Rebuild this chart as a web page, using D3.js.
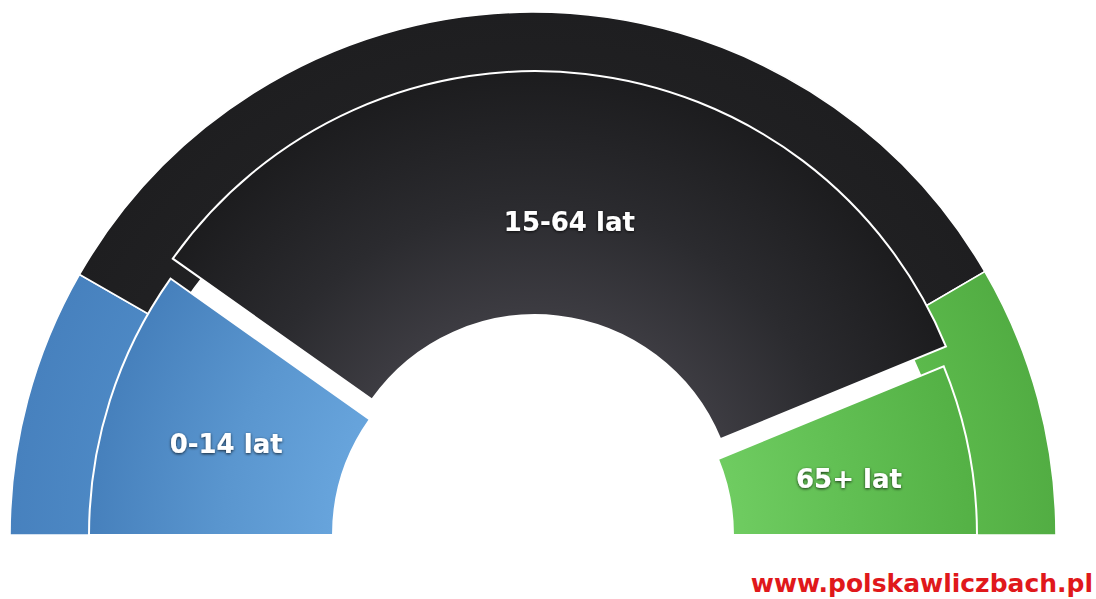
<!DOCTYPE html>
<html>
<head>
<meta charset="utf-8">
<script src="https://cdn.jsdelivr.net/npm/d3@7"></script>
<style>
html,body{margin:0;padding:0;background:#fff;}
svg{display:block;}
</style>
</head>
<body>
<svg id="chart" width="1096" height="599"></svg>
<script>
// ---- data ----
const categories = ["0-14 lat", "15-64 lat", "65+ lat"];
const outerValues = [16.6, 66.6, 16.8];   // outer ring (%)
const innerValues = [19.6, 68.0, 12.4];   // inner ring (%)
const sourceLabel = "www.polskawliczbach.pl";

// ---- layout ----
const W = 1096, H = 599;
const cx = 533, cy = 535;
const R_OUT = 523, R_OUT_IN = 419;
const R_IN = 444, R_IN_IN = 200;
const EXPLODE = 20;
const explodedCategory = "15-64 lat";

const svg = d3.select("#chart");
const defs = svg.append("defs");

const palette = {
  "0-14 lat":  {stops: [["#67a4dc", 0], ["#5a96cf", 0.45], ["#4680bc", 1]], o: ["#4e8ac6", "#4781be"]},
  "15-64 lat": {stops: [["#3d3c42", 0], ["#2b2b2f", 0.45], ["#1c1c1e", 1]], o: ["#212123", "#1e1e20"]},
  "65+ lat":   {stops: [["#6fcc61", 0], ["#62c054", 0.45], ["#54b145", 1]], o: ["#5cba4c", "#52ad43"]}
};

categories.forEach((c, i) => {
  const p = palette[c];
  // inner ring gradient (user space = group space centred on the pie)
  const gi = defs.append("radialGradient")
    .attr("id", "gi" + i).attr("gradientUnits", "userSpaceOnUse")
    .attr("cx", 0).attr("cy", 0).attr("fx", 0).attr("fy", 0).attr("r", R_IN);
  const f0 = R_IN_IN / R_IN;
  p.stops.forEach(([col, t]) => {
    gi.append("stop").attr("offset", f0 + (1 - f0) * t).attr("stop-color", col);
  });
  // outer ring gradient
  const go = defs.append("radialGradient")
    .attr("id", "go" + i).attr("gradientUnits", "userSpaceOnUse")
    .attr("cx", 0).attr("cy", 0).attr("fx", 0).attr("fy", 0).attr("r", R_OUT);
  go.append("stop").attr("offset", R_OUT_IN / R_OUT).attr("stop-color", p.o[0]);
  go.append("stop").attr("offset", 1).attr("stop-color", p.o[1]);
});

// text shadow
const f = defs.append("filter").attr("id", "tshadow")
  .attr("x", "-20%").attr("y", "-40%").attr("width", "140%").attr("height", "180%");
f.append("feDropShadow").attr("dx", 0).attr("dy", 1).attr("stdDeviation", 1.6)
  .attr("flood-color", "#000").attr("flood-opacity", 0.75);

const pie = d3.pie().sort(null).startAngle(-Math.PI / 2).endAngle(Math.PI / 2);

const outerArc = d3.arc().innerRadius(R_OUT_IN).outerRadius(R_OUT);
const innerArc = d3.arc().innerRadius(R_IN_IN).outerRadius(R_IN);

const g = svg.append("g").attr("transform", `translate(${cx},${cy})`);

const outerData = pie(outerValues).map((d, i) => ({...d, cat: categories[i], idx: i}));
const innerData = pie(innerValues).map((d, i) => ({...d, cat: categories[i], idx: i}));

g.append("g").selectAll("path").data(outerData).join("path")
  .attr("d", outerArc)
  .attr("fill", d => `url(#go${d.idx})`)
  .attr("stroke", "#fff").attr("stroke-width", 1.6).attr("stroke-linejoin", "miter");

function offset(d) {
  if (d.cat !== explodedCategory) return [0, 0];
  const a = (d.startAngle + d.endAngle) / 2;
  return [Math.sin(a) * EXPLODE, -Math.cos(a) * EXPLODE];
}

g.append("g").selectAll("path").data(innerData).join("path")
  .attr("transform", d => { const o = offset(d); return `translate(${o[0]},${o[1]})`; })
  .attr("d", innerArc)
  .attr("fill", d => `url(#gi${d.idx})`)
  .attr("stroke", "#fff").attr("stroke-width", 2).attr("stroke-linejoin", "miter");

// labels
g.append("g").selectAll("text").data(innerData).join("text")
  .attr("x", d => innerArc.centroid(d)[0])
  .attr("y", d => innerArc.centroid(d)[1])
  .attr("dy", "0.6em")
  .attr("text-anchor", "middle")
  .attr("font-family", "'DejaVu Sans', sans-serif")
  .attr("font-weight", "bold")
  .attr("font-size", 26)
  .attr("fill", "#fff")
  .attr("filter", "url(#tshadow)")
  .text(d => d.cat);

// source
svg.append("text")
  .attr("x", 1093).attr("y", 592)
  .attr("text-anchor", "end")
  .attr("font-family", "'DejaVu Sans', sans-serif")
  .attr("font-weight", "bold")
  .attr("font-size", 25)
  .attr("fill", "#e0181b")
  .text(sourceLabel);
</script>
</body>
</html>
